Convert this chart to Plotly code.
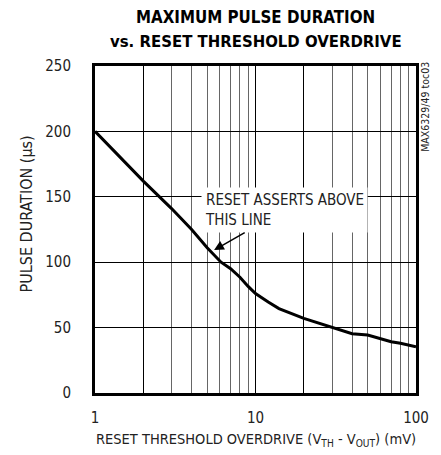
import numpy as np
import plotly.graph_objects as go

# Data
overdrive_mv = [1, 2, 3, 4, 5, 6.1, 7, 8, 9, 10, 12, 14, 20, 30, 40, 50, 60, 70, 80, 100]
pulse_us = [200, 162, 141, 125, 111, 100, 95, 88.5, 81.5, 76, 69.5, 64.5, 57, 50, 45.3, 44.3, 41.3, 39.2, 38, 35.4]

x_major_ticks = [1, 2, 10, 20, 100]
x_major_text = ["1", "", "10", "", "100"]
x_minor_ticks = [3, 4, 5, 6, 7, 8, 9, 30, 40, 50, 60, 70, 80, 90]
y_ticks = [0, 50, 100, 150, 200, 250]

FONT = "DejaVu Sans Condensed, Liberation Sans Narrow, Arial Narrow, sans-serif"
TXT = "#222"

fig = go.Figure()
fig.add_trace(go.Scatter(
    x=overdrive_mv, y=pulse_us, mode="lines",
    line=dict(color="black", width=3), showlegend=False, hoverinfo="skip",
))

fig.update_layout(
    width=441, height=455,
    margin=dict(l=95, r=18, t=66, b=62),
    paper_bgcolor="white", plot_bgcolor="white",
    font=dict(family=FONT, size=15, color=TXT),
)

fig.update_xaxes(
    type="log", range=[0, 2],
    tickmode="array", tickvals=x_major_ticks, ticktext=x_major_text,
    ticks="", ticklabelstandoff=9,
    showgrid=True, gridcolor="black", gridwidth=1,
    minor=dict(tickmode="array", tickvals=x_minor_ticks, showgrid=True,
               gridcolor="#666666", gridwidth=1, ticks=""),
    showline=True, linecolor="black", linewidth=3, mirror=True,
    zeroline=False, tickfont=dict(size=15, color=TXT),
)
fig.update_yaxes(
    range=[0, 250], tickmode="array", tickvals=y_ticks,
    ticks="", ticklabelstandoff=18,
    showgrid=True, gridcolor="black", gridwidth=1,
    showline=True, linecolor="black", linewidth=3, mirror=True,
    zeroline=False, tickfont=dict(size=15, color=TXT),
)

# Title (two lines)
fig.add_annotation(
    text="<b>MAXIMUM PULSE DURATION</b>",
    xref="paper", yref="paper", x=0.5, y=(393 - 17) / 327,
    xanchor="center", yanchor="middle", showarrow=False,
    font=dict(family=FONT, size=16.8, color="black"),
)
fig.add_annotation(
    text="<b>vs. RESET THRESHOLD OVERDRIVE</b>",
    xref="paper", yref="paper", x=0.5, y=(393 - 41) / 327,
    xanchor="center", yanchor="middle", showarrow=False,
    font=dict(family=FONT, size=16.6, color="black"),
)

# Axis titles
fig.add_annotation(
    text="RESET THRESHOLD OVERDRIVE (V<sub>TH</sub> - V<sub>OUT</sub>) (mV)",
    xref="paper", yref="paper", x=0.5, y=(393 - 440) / 327,
    xanchor="center", yanchor="middle", showarrow=False,
    font=dict(family=FONT, size=14.5, color=TXT),
)
fig.add_annotation(
    text="PULSE DURATION (µs)",
    xref="paper", yref="paper", x=(25 - 95) / 328, y=(393 - 214) / 327,
    xanchor="center", yanchor="middle", textangle=-90, showarrow=False,
    font=dict(family=FONT, size=16, color=TXT),
)

# Side label
fig.add_annotation(
    text="MAX6329/49 toc03",
    xref="paper", yref="paper", x=(432 - 95) / 328, y=(393 - 107) / 327,
    xanchor="center", yanchor="middle", textangle=-90, showarrow=False,
    font=dict(family=FONT, size=10.5, color=TXT),
)

# Note text with arrow pointing at the curve
fig.add_annotation(
    text="RESET ASSERTS ABOVE<br>THIS LINE",
    x=np.log10(5.52), y=109.3, xref="x", yref="y",
    ax=70, ay=-40, axref="pixel", ayref="pixel",
    align="left", showarrow=True, arrowhead=2, arrowsize=1.3, arrowwidth=1.5,
    arrowcolor="black", standoff=0,
    bgcolor="white", borderpad=3,
    font=dict(family=FONT, size=15, color=TXT),
)

fig.write_html("out.html", config={"displayModeBar": False},
               post_script="document.body.style.margin='0px';")
